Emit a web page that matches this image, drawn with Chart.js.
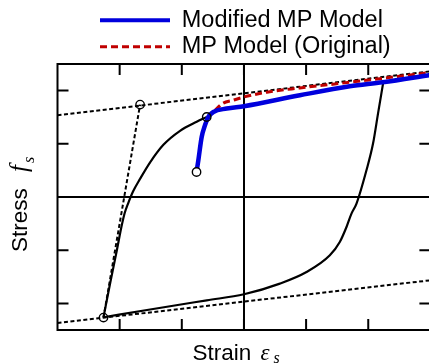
<!DOCTYPE html>
<html>
<head>
<meta charset="utf-8">
<script src="https://cdn.jsdelivr.net/npm/chart.js@4.4.1/dist/chart.umd.min.js"></script>
<style>
  html, body { margin: 0; padding: 0; background: #fff; overflow: hidden; }
  #wrap { width: 436px; height: 363px; }
</style>
</head>
<body>
<div id="wrap"><canvas id="chart" width="436" height="363"></canvas></div>
<script>
// Axis ranges and tick positions (no tick labels in the figure)
const X_MIN = -3, X_MAX = 3;
const Y_MIN = -2.5, Y_MAX = 2.5;
const X_TICKS = [-2, -1, 0, 1, 2];
const Y_TICKS = [-2, -1, 0, 1, 2];

const LEGEND_LABELS = ['Modified MP Model', 'MP Model (Original)'];

// Modified MP model (blue)
const modStrain = [-0.763, -0.734, -0.680, -0.627, -0.573, -0.493, -0.278, 0, 0.900, 1.703, 2.233, 3.0];
const modStress = [0.470, 0.690, 1.128, 1.348, 1.504, 1.598, 1.662, 1.705, 1.912, 2.081, 2.156, 2.293];

// Original MP model (red dashed)
const mpStrain = [-0.763, -0.734, -0.680, -0.573, -0.466, -0.337, -0.177, 0, 0.369, 0.900, 1.430, 1.976, 2.506, 3.0];
const mpStress = [0.470, 0.690, 1.128, 1.504, 1.630, 1.761, 1.818, 1.880, 1.970, 2.050, 2.120, 2.195, 2.270, 2.340];

// Black solid branches
const reloadStrain = [-2.260, -2.153, -2.045, -1.976, -1.920, -1.863, -1.783, -1.671, -1.510, -1.296, -1.028, -0.760, -0.599];
const reloadStress = [-2.261, -1.622, -1.002, -0.588, -0.306, -0.118, 0.107, 0.342, 0.652, 0.981, 1.244, 1.414, 1.504];
const unloadStrain = [-2.260, -1.510, -0.599, 0, 0.578, 1.007, 1.382, 1.542, 1.650, 1.730, 1.811, 1.971, 2.077, 2.157, 2.238];
const unloadStress = [-2.261, -2.115, -1.942, -1.829, -1.628, -1.410, -1.096, -0.846, -0.564, -0.312, -0.124, 0.502, 1.004, 1.568, 2.132];

// Bilinear envelope (black dashed)
const upperStrain = [-3, 3];
const upperStress = [1.536, 2.363];
const lowerStrain = [-3, 3];
const lowerStress = [-2.368, -1.566];
const elasticStrain = [-2.260, -1.671];
const elasticStress = [-2.267, 1.737];

// Open circles
const markStrain = [-1.671, -2.260, -0.599, -0.763];
const markStress = [1.737, -2.267, 1.504, 0.470];

function pts(xs, ys) {
    return xs.map((x, i) => ({ x: x, y: ys[i] }));
}

const dashedEnvelope = (xs, ys) => ({
    data: pts(xs, ys),
    showLine: true,
    borderColor: '#000',
    borderWidth: 2,
    borderDash: [4, 2.5],
    pointRadius: 0,
    order: 3
});

const solidBranch = (xs, ys) => ({
    data: pts(xs, ys),
    showLine: true,
    borderColor: '#000',
    borderWidth: 2.2,
    cubicInterpolationMode: 'monotone',
    pointRadius: 0,
    order: 4
});

// Frame, inward ticks and axis titles
const axisDecor = {
    id: 'axisDecor',
    afterLayout(chart) {
        // legend sits over the plot, not centred on the canvas
        chart.legend.left = 97;
        chart.legend.top = 5.5;
    },
    afterDraw(chart) {
        const { ctx, chartArea: a, scales: { x, y } } = chart;
        ctx.save();
        ctx.strokeStyle = '#000';
        ctx.lineWidth = 2;
        ctx.strokeRect(a.left, a.top, a.right - a.left, a.bottom - a.top);

        ctx.beginPath();
        X_TICKS.forEach(v => {
            const px = x.getPixelForValue(v);
            ctx.moveTo(px, a.top); ctx.lineTo(px, a.top + 11);
            ctx.moveTo(px, a.bottom); ctx.lineTo(px, a.bottom - 11);
        });
        Y_TICKS.forEach(v => {
            const py = y.getPixelForValue(v);
            ctx.moveTo(a.left, py); ctx.lineTo(a.left + 11, py);
            ctx.moveTo(a.right, py); ctx.lineTo(a.right - 11, py);
        });
        ctx.stroke();

        ctx.fillStyle = '#000';
        ctx.textBaseline = 'alphabetic';
        ctx.textAlign = 'left';

        // x title: Strain  εs
        const sx = x.getPixelForValue(0) - 51.5;
        const sy = a.bottom + 30;
        ctx.font = '22.5px "Liberation Sans", Arial, sans-serif';
        ctx.fillText('Strain', sx, sy);
        ctx.font = 'italic 23px "Liberation Serif", "Times New Roman", serif';
        ctx.fillText('\u03b5', sx + 68, sy);
        ctx.font = 'italic 16px "Liberation Serif", "Times New Roman", serif';
        ctx.fillText('s', sx + 81, sy + 3);

        // y title: Stress  fs
        ctx.translate(27.3, y.getPixelForValue(0) + 55);
        ctx.rotate(-Math.PI / 2);
        ctx.font = '22.5px "Liberation Sans", Arial, sans-serif';
        ctx.fillText('Stress', 0, 0);
        ctx.font = 'italic 25px "Liberation Serif", "Times New Roman", serif';
        ctx.fillText('f', 80, 0);
        ctx.font = 'italic 16px "Liberation Serif", "Times New Roman", serif';
        ctx.fillText('s', 89, 7);
        ctx.restore();
    }
};

Chart.defaults.font.family = '"Liberation Sans", Arial, sans-serif';
Chart.defaults.color = '#000';

new Chart(document.getElementById('chart'), {
    type: 'scatter',
    data: {
        datasets: [
            {
                label: LEGEND_LABELS[0],
                data: pts(modStrain, modStress),
                showLine: true,
                borderColor: '#0000dd',
                borderWidth: 4.5,
                cubicInterpolationMode: 'monotone',
                pointRadius: 0,
                order: 1
            },
            {
                label: LEGEND_LABELS[1],
                data: pts(mpStrain, mpStress),
                showLine: true,
                borderColor: '#c00000',
                borderWidth: 3,
                borderDash: [7, 4],
                cubicInterpolationMode: 'monotone',
                pointRadius: 0,
                order: 2
            },
            dashedEnvelope(upperStrain, upperStress),
            dashedEnvelope(lowerStrain, lowerStress),
            dashedEnvelope(elasticStrain, elasticStress),
            solidBranch(reloadStrain, reloadStress),
            solidBranch(unloadStrain, unloadStress),
            {
                data: pts(markStrain, markStress),
                showLine: false,
                pointRadius: 4.2,
                pointBorderWidth: 1.4,
                pointBorderColor: '#000',
                pointBackgroundColor: ['rgba(0,0,0,0)', 'rgba(0,0,0,0)', 'rgba(0,0,0,0)', '#fff'],
                order: 0
            }
        ]
    },
    options: {
        responsive: false,
        animation: false,
        events: [],
        layout: { padding: { top: 1, right: 5, bottom: 0, left: 0 } },
        plugins: {
            tooltip: { enabled: false },
            legend: {
                position: 'top',
                align: 'start',
                labels: {
                    usePointStyle: true,
                    pointStyle: 'line',
                    pointStyleWidth: 70,
                    boxWidth: 70,
                    padding: 3,
                    color: '#000',
                    font: { size: 23.5 },
                    generateLabels: chart => chart.data.datasets.slice(0, 2).map((ds, i) => ({
                        text: ds.label,
                        strokeStyle: ds.borderColor,
                        fillStyle: ds.borderColor,
                        lineWidth: i === 0 ? 4 : 3,
                        lineDash: ds.borderDash || [],
                        pointStyle: 'line',
                        hidden: false,
                        datasetIndex: i
                    }))
                }
            }
        },
        scales: {
            x: {
                type: 'linear',
                min: X_MIN,
                max: X_MAX,
                afterBuildTicks: s => { s.ticks = X_TICKS.map(v => ({ value: v })); },
                afterFit: s => { s.height = 33; },
                ticks: { display: false },
                border: { display: false },
                grid: {
                    drawTicks: false,
                    lineWidth: 2,
                    color: c => (c.tick && c.tick.value === 0 ? '#000' : 'rgba(0,0,0,0)')
                }
            },
            y: {
                type: 'linear',
                min: Y_MIN,
                max: Y_MAX,
                afterBuildTicks: s => { s.ticks = Y_TICKS.map(v => ({ value: v })); },
                afterFit: s => { s.width = 57.5; },
                ticks: { display: false },
                border: { display: false },
                grid: {
                    drawTicks: false,
                    lineWidth: 2,
                    color: c => (c.tick && c.tick.value === 0 ? '#000' : 'rgba(0,0,0,0)')
                }
            }
        }
    },
    plugins: [axisDecor]
});
</script>
</body>
</html>
